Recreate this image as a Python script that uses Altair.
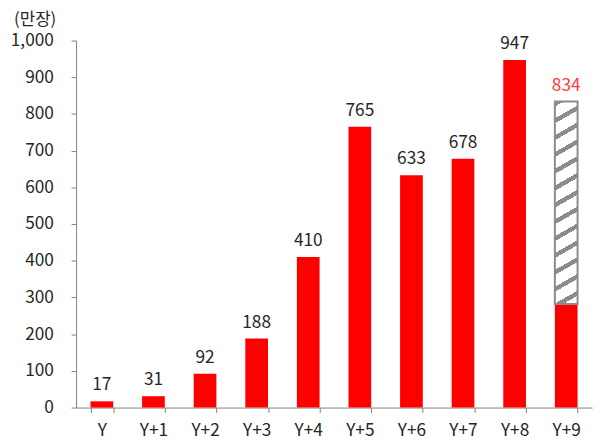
import altair as alt
import pandas as pd

categories = ["Y", "Y+1", "Y+2", "Y+3", "Y+4", "Y+5", "Y+6", "Y+7", "Y+8", "Y+9"]
values = [17, 31, 92, 188, 410, 765, 633, 678, 947, 834]
last_actual = 282  # solid part of the last bar
label_colors = ["#262626"] * 9 + ["#ff3b3b"]
y_ticks = [0, 100, 200, 300, 400, 500, 600, 700, 800, 900, 1000]

FONT = "Noto Sans CJK KR"
FS = 17.5

bar_vals = values[:-1] + [last_actual]
df = pd.DataFrame({
    "cat": categories,
    "value": values,
    "bar": bar_vals,
    "lc": label_colors,
})
hatch_df = pd.DataFrame({"cat": [categories[-1]], "y0": [last_actual], "y1": [values[-1]]})

# hatch pattern as a striped linear gradient (style only)
periods = 12.8
frac = 0.3
stops = []
i = 0
while True:
    a = i / periods
    b = (i + frac) / periods
    if a > 1:
        break
    stops.append(alt.GradientStop(offset=a, color="#ffffff"))
    stops.append(alt.GradientStop(offset=a, color="#8c8c8c"))
    if b >= 1:
        stops.append(alt.GradientStop(offset=1, color="#8c8c8c"))
        break
    stops.append(alt.GradientStop(offset=b, color="#8c8c8c"))
    stops.append(alt.GradientStop(offset=b, color="#ffffff"))
    i += 1
hatch_fill = alt.Gradient(gradient="linear", stops=stops, x1=0, y1=0, x2=0.0678, y2=1.0597)

axis_common = dict(labelFontSize=FS, labelFont=FONT, labelColor="#262626",
                   domainColor="#808080", tickColor="#808080", tickSize=5)

x_axis = alt.Axis(title=None, labelAngle=0, tickBand="extent", labelPadding=9, **axis_common)
y_axis = alt.Axis(values=y_ticks, format=",d", grid=False, labelOverlap=False,
                  labelPadding=18, **axis_common,
                  title="(만장)", titleAngle=0, titleFont=FONT, titleFontSize=17,
                  titleFontWeight="normal", titleColor="#262626",
                  titleAlign="center", titleBaseline="top",
                  titleX=-42, titleY=-29)
xscale = alt.Scale(paddingInner=0.56, paddingOuter=0.28)
yscale = alt.Scale(domain=[0, 1000], nice=False)


def xenc():
    return alt.X("cat:N", sort=categories, scale=xscale, axis=x_axis)


base = alt.Chart(df)

bars = base.mark_bar(color="#ff0000").encode(
    x=xenc(),
    y=alt.Y("bar:Q", scale=yscale, axis=y_axis),
)

hatch = alt.Chart(hatch_df).mark_bar(fill=hatch_fill, stroke="#8c8c8c", strokeWidth=2).encode(
    x=xenc(),
    y=alt.Y("y0:Q", scale=yscale, axis=y_axis),
    y2="y1:Q",
)

labels = base.mark_text(baseline="bottom", dy=-7, fontSize=FS, font=FONT).encode(
    x=xenc(),
    y=alt.Y("value:Q", scale=yscale, axis=y_axis),
    text=alt.Text("value:Q"),
    color=alt.Color("lc:N", scale=None),
)

chart = alt.layer(bars, hatch, labels).properties(
    width=523, height=372,
    autosize=alt.AutoSizeParams(type="none"),
    padding={"left": 69, "top": 30, "right": 1, "bottom": 40},
).configure_view(stroke=None)

chart.save("out.html", embed_options={"renderer": "svg", "actions": False})
